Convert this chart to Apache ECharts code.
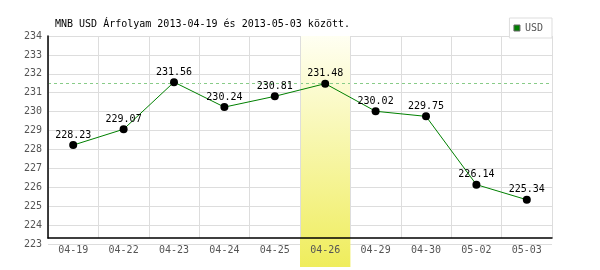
<!DOCTYPE html>
<html>
<head>
<meta charset="utf-8">
<script src="https://cdn.jsdelivr.net/npm/echarts@6/dist/echarts.min.js"></script>
<style>html,body{margin:0;padding:0;background:#fff}#c{width:600px;height:270px}</style>
</head>
<body>
<div id="c"></div>
<script>
var categories = ['04-19','04-22','04-23','04-24','04-25','04-26','04-29','04-30','05-02','05-03'];
var usdValues = [228.23, 229.07, 231.56, 230.24, 230.81, 231.48, 230.02, 229.75, 226.14, 225.34];
var highlightDay = '04-26';
var refValue = 231.48;
var yMin = 223, yMax = 234, yStep = 1;
var titleText = 'MNB USD Árfolyam 2013-04-19 és 2013-05-03 között.';

var MONO = '"DejaVu Sans Mono", monospace';
var chart = echarts.init(document.getElementById('c'), null, {renderer: 'canvas'});
chart.setOption({
  animation: false,
  backgroundColor: '#fff',
  title: {
    text: titleText, left: 50, top: 14,
    textStyle: {fontFamily: MONO, fontSize: 10, fontWeight: 'normal', color: '#000'}
  },
  legend: {
    right: 48, top: 18, orient: 'horizontal',
    icon: 'rect', itemWidth: 6, itemHeight: 6,
    backgroundColor: '#fff', borderColor: '#ddd', borderWidth: 1,
    padding: [5, 9, 5, 4],
    textStyle: {fontFamily: MONO, fontSize: 10, color: '#555'},
    data: [{name: 'USD', itemStyle: {color: '#008000', borderColor: '#666', borderWidth: 1}}]
  },
  grid: [
    {left: 48, right: 48, top: 36, bottom: 26},
    {left: 48, right: 48, top: 36, bottom: 32},
    {left: 48, right: 48, top: 36, bottom: 3}
  ],
  xAxis: [
    {gridIndex: 0, type: 'category', data: categories, z: 6,
     axisLine: {show: false}, axisTick: {show: false}, splitLine: {show: false},
     axisLabel: {fontFamily: MONO, fontSize: 10, color: '#555', margin: 1}},
    {gridIndex: 1, type: 'category', data: categories, z: 6,
     axisLine: {show: true, lineStyle: {color: '#000', width: 1.5}}, axisTick: {show: false},
     axisLabel: {show: false},
     splitLine: {show: true, interval: 0, lineStyle: {color: '#ddd', width: 1}}},
    {gridIndex: 2, type: 'category', data: categories, show: false, boundaryGap: true}
  ],
  yAxis: [
    {gridIndex: 0, type: 'value', min: yMin, max: yMax, interval: yStep, z: 0,
     axisLine: {show: false}, axisTick: {show: false},
     axisLabel: {fontFamily: MONO, fontSize: 10, color: '#555', margin: 6},
     splitLine: {show: true, lineStyle: {color: '#ddd', width: 1}}},
    {gridIndex: 1, type: 'value', min: 0, max: 1, z: 6,
     axisLine: {show: true, lineStyle: {color: '#000', width: 1.5}}, axisTick: {show: false},
     axisLabel: {show: false}, splitLine: {show: false}},
    {gridIndex: 2, type: 'value', min: 0, max: 1, show: false}
  ],
  series: [
    {
      name: 'ref', type: 'line', xAxisIndex: 0, yAxisIndex: 0, z: 1,
      data: usdValues, symbol: 'none', silent: true,
      lineStyle: {opacity: 0}, label: {show: false},
      markLine: {
        silent: true, symbol: 'none', label: {show: false},
        lineStyle: {color: '#88cc88', type: [3, 3], width: 1},
        data: [{yAxis: refValue}]
      }
    },
    {
      name: 'band', type: 'bar', xAxisIndex: 2, yAxisIndex: 2, z: 2,
      barWidth: '100%', silent: true,
      data: categories.map(function (c) { return c === highlightDay ? 1 : null; }),
      itemStyle: {
        color: new echarts.graphic.LinearGradient(0, 0, 0, 1, [
          {offset: 0, color: '#fffff2'},
          {offset: 1, color: '#efed5c'}
        ])
      }
    },
    {
      name: 'USD', type: 'line', xAxisIndex: 0, yAxisIndex: 0, z: 8,
      data: usdValues,
      symbol: 'circle', symbolSize: 8,
      itemStyle: {color: '#000'},
      lineStyle: {color: '#008000', width: 1},
      label: {show: true, position: 'top', distance: 1,
              fontFamily: MONO, fontSize: 10, color: '#000'}
    }
  ]
});
</script>
</body>
</html>
